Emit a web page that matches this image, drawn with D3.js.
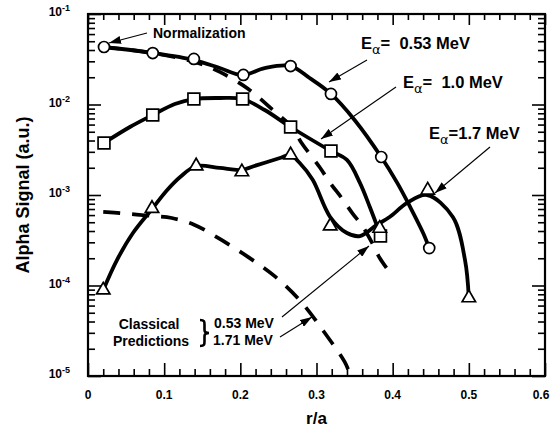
<!DOCTYPE html>
<html><head><meta charset="utf-8">
<script src="https://cdn.jsdelivr.net/npm/d3@7"></script>
<style>
body{margin:0;background:#fff}
svg{display:block}
text{font-family:"Liberation Sans",Arial,Helvetica,sans-serif;font-weight:bold;fill:#000}
</style>
</head><body>
<svg id="chart" width="551" height="433"></svg>
<script>
// ---- measured points (r/a, alpha signal) ----
const circR = [0.021, 0.085, 0.139, 0.204, 0.266, 0.319, 0.385, 0.448];
const circV = [0.0432, 0.037, 0.0319, 0.0212, 0.0266, 0.0131, 0.00263, 0.000259];
const sqR   = [0.021, 0.085, 0.139, 0.203, 0.266, 0.319, 0.384];
const sqV   = [0.00376, 0.00766, 0.0115, 0.0115, 0.00564, 0.00306, 0.000352];
const triR  = [0.020, 0.084, 0.142, 0.202, 0.266, 0.318, 0.383, 0.446, 0.500];
const triV  = [8.9e-5, 7.1e-4, 2.09e-3, 1.8e-3, 2.77e-3, 4.54e-4, 4.28e-4, 1.13e-3, 7.3e-5];

// ---- smooth fits through the measurements ----
const fit053R = [0.021, 0.085, 0.139, 0.173, 0.203, 0.232, 0.266, 0.291, 0.319, 0.350, 0.385, 0.406, 0.423, 0.440, 0.448];
const fit053V = [0.0432, 0.0371, 0.0310, 0.0253, 0.0212, 0.0253, 0.0266, 0.0196, 0.0131, 0.00675, 0.00263, 0.00136, 0.000736, 0.00038, 0.000259];
const fit10R  = [0.021, 0.055, 0.085, 0.114, 0.139, 0.173, 0.203, 0.232, 0.266, 0.319, 0.340, 0.357, 0.370, 0.383];
const fit10V  = [0.00376, 0.00564, 0.00766, 0.01014, 0.0115, 0.0118, 0.0115, 0.00869, 0.00564, 0.00306, 0.00244, 0.00136, 0.000736, 0.00038];
const fit17R  = [0.020, 0.038, 0.059, 0.084, 0.104, 0.121, 0.142, 0.173, 0.201, 0.222, 0.252, 0.265, 0.278, 0.295, 0.318, 0.340, 0.357, 0.379, 0.396, 0.419, 0.445, 0.479, 0.495, 0.500];
const fit17V  = [8.91e-5, 1.91e-4, 3.8e-4, 7.0e-4, 1.135e-3, 1.58e-3, 2.09e-3, 1.99e-3, 1.89e-3, 2.14e-3, 2.56e-3, 2.77e-3, 2.26e-3, 1.47e-3, 5.71e-4, 3.8e-4, 3.52e-4, 4.67e-4, 5.71e-4, 8.17e-4, 1.0e-3, 5.71e-4, 1.91e-4, 7.28e-5];

// ---- classical predictions ----
const cls053R = [0.021, 0.085, 0.140, 0.173, 0.210, 0.244, 0.268, 0.280, 0.304, 0.318, 0.333, 0.347, 0.361, 0.373, 0.383, 0.394];
const cls053V = [0.0432, 0.037, 0.0295, 0.0229, 0.0149, 0.0085, 0.0056, 0.0038, 0.00204, 0.00136, 0.000927, 0.000632, 0.000443, 0.000295, 0.000201, 0.000148];
const cls171R = [0.020, 0.042, 0.084, 0.110, 0.140, 0.173, 0.210, 0.245, 0.280, 0.310, 0.337, 0.344];
const cls171V = [6.5e-4, 6.3e-4, 5.86e-4, 5.57e-4, 4.67e-4, 3.27e-4, 2.07e-4, 1.27e-4, 6.58e-5, 3.06e-5, 1.43e-5, 1.05e-5];

// ---- ticks ----
const xMajor = [0, 0.1, 0.2, 0.3, 0.4, 0.5, 0.6];
const xLabels = ["0", "0.1", "0.2", "0.3", "0.4", "0.5", "0.6"];
const yMajor = [1e-5, 1e-4, 1e-3, 1e-2, 1e-1];
const yExp = ["-5", "-4", "-3", "-2", "-1"];

const zip = (a, b) => a.map((v, i) => [v, b[i]]);

const svg = d3.select("#chart");
const L = 88, R = 545, T = 14, B = 376;
const x = d3.scaleLinear().domain([0, 0.6]).range([L, R]);
const y = d3.scaleLog().domain([1e-5, 1e-1]).range([B, T]);

// minor tick positions
const xMinor = d3.range(0, 0.6001, 0.02).filter(v => Math.abs(v * 10 - Math.round(v * 10)) > 1e-6);
const yMinor = [];
for (let e = -5; e < -1; e++) for (let k = 2; k <= 9; k++) yMinor.push(k * Math.pow(10, e));

function axisGroup(axis, tx, ty) {
  const g = svg.append("g").attr("transform", `translate(${tx},${ty})`).call(axis);
  g.select(".domain").remove();
  g.selectAll("line").attr("stroke", "#000").attr("stroke-width", 1.6);
  return g;
}
// bottom/top
axisGroup(d3.axisBottom(x).tickValues(xMajor).tickSize(-13).tickSizeOuter(0).tickFormat(""), 0, B);
axisGroup(d3.axisBottom(x).tickValues(xMinor).tickSize(-7).tickSizeOuter(0).tickFormat(""), 0, B);
axisGroup(d3.axisTop(x).tickValues(xMajor).tickSize(-11).tickSizeOuter(0).tickFormat(""), 0, T);
axisGroup(d3.axisTop(x).tickValues(xMinor).tickSize(-6).tickSizeOuter(0).tickFormat(""), 0, T);
// left/right
axisGroup(d3.axisLeft(y).tickValues(yMajor).tickSize(-13).tickSizeOuter(0).tickFormat(""), L, 0);
axisGroup(d3.axisLeft(y).tickValues(yMinor).tickSize(-7).tickSizeOuter(0).tickFormat(""), L, 0);
axisGroup(d3.axisRight(y).tickValues(yMajor).tickSize(-13).tickSizeOuter(0).tickFormat(""), R, 0);
axisGroup(d3.axisRight(y).tickValues(yMinor).tickSize(-7).tickSizeOuter(0).tickFormat(""), R, 0);

// frame
svg.append("rect").attr("x", L).attr("y", T).attr("width", R - L).attr("height", B - T)
  .attr("fill", "none").attr("stroke", "#000").attr("stroke-width", 2.2);

// tick labels (last one kept inside the page edge)
svg.append("g").selectAll("text").data(xMajor).join("text")
  .attr("x", d => Math.min(x(d), 541)).attr("y", 399).attr("text-anchor", "middle")
  .attr("font-size", 12).text((d, i) => xLabels[i]);
const yl = svg.append("g").selectAll("text").data(yMajor).join("text")
  .attr("x", 70).attr("y", d => y(d) + 2).attr("text-anchor", "end").attr("font-size", 12);
yl.append("tspan").text("10");
yl.append("tspan").attr("font-size", 9).attr("dy", -5).text((d, i) => yExp[i]);

// axis titles
svg.append("text").attr("x", x(0.3)).attr("y", 424).attr("text-anchor", "middle")
  .attr("font-size", 17).text("r/a");
svg.append("text").attr("transform", `translate(29,${(T + B) / 2}) rotate(-90)`)
  .attr("text-anchor", "middle").attr("font-size", 18).text("Alpha Signal (a.u.)");

// curves
const line = d3.line().x(d => x(d[0])).y(d => y(d[1])).curve(d3.curveCatmullRom.alpha(0.5));
const curves = svg.append("g").attr("fill", "none").attr("stroke", "#000")
  .attr("stroke-linecap", "round").attr("stroke-linejoin", "round");
curves.append("path").attr("d", line(zip(cls053R, cls053V))).attr("stroke-width", 3.7)
  .attr("stroke-dasharray", "16,12").attr("stroke-linecap", "butt");
curves.append("path").attr("d", line(zip(cls171R, cls171V))).attr("stroke-width", 3.7)
  .attr("stroke-dasharray", "17,12").attr("stroke-linecap", "butt");
curves.append("path").attr("d", line(zip(fit053R, fit053V))).attr("stroke-width", 3.8);
curves.append("path").attr("d", line(zip(fit10R, fit10V))).attr("stroke-width", 3.8);
curves.append("path").attr("d", line(zip(fit17R, fit17V))).attr("stroke-width", 3.8);

// markers
function markers(rs, vs, type, size) {
  svg.append("g").selectAll("path").data(zip(rs, vs)).join("path")
    .attr("transform", d => `translate(${x(d[0])},${y(d[1])})`)
    .attr("d", d3.symbol().type(type).size(size)())
    .attr("fill", "#fff").attr("stroke", "#000").attr("stroke-width", 1.7);
}
markers(circR, circV, d3.symbolCircle, 95);
markers(sqR, sqV, d3.symbolSquare, 140);
markers(triR, triV, d3.symbolTriangle, 78);

// arrow heads
svg.append("defs").append("marker").attr("id", "ah")
  .attr("viewBox", "0 0 12 8").attr("refX", 12).attr("refY", 4)
  .attr("markerWidth", 12).attr("markerHeight", 8).attr("markerUnits", "userSpaceOnUse")
  .attr("orient", "auto")
  .append("path").attr("d", "M0,0 L12,4 L0,8 Z").attr("fill", "#000");

const arrows = [
  [147, 33, 109, 43],
  [367, 60, 329, 82],
  [396, 87, 321, 139],
  [490, 147, 435, 193],
  [282, 317, 369, 246],
  [280, 337, 312, 317]
];
svg.append("g").selectAll("line").data(arrows).join("line")
  .attr("x1", d => d[0]).attr("y1", d => d[1]).attr("x2", d => d[2]).attr("y2", d => d[3])
  .attr("stroke", "#000").attr("stroke-width", 1.1).attr("marker-end", "url(#ah)");

// annotations
svg.append("text").attr("x", 153).attr("y", 38).attr("font-size", 14).text("Normalization");

function energy(xp, yp, mid, val) {
  const t = svg.append("text").attr("x", xp).attr("y", yp).attr("font-size", 16.5)
    .style("white-space", "pre");
  t.append("tspan").text("E");
  t.append("tspan").attr("font-size", 13).attr("font-weight", "normal")
    .attr("font-family", "DejaVu Sans, sans-serif").attr("dy", 4.5).text("\u03b1");
  t.append("tspan").attr("dy", -4.5).text(mid + val);
}
energy(361, 49, "=  ", "0.53 MeV");
energy(403, 88, "=  ", "1.0 MeV");
energy(429, 139, "=", "1.7 MeV");

svg.append("text").attr("x", 149).attr("y", 329).attr("text-anchor", "middle")
  .attr("font-size", 14).text("Classical");
svg.append("text").attr("x", 151).attr("y", 346).attr("text-anchor", "middle")
  .attr("font-size", 14).text("Predictions");
svg.append("path")
  .attr("d", "M200,320 C205,320 204.5,322 204.5,326 L204.5,330 C204.5,332 206,333 209,333 C206,333 204.5,334 204.5,336 L204.5,340 C204.5,344 205,346 200,346")
  .attr("fill", "none").attr("stroke", "#000").attr("stroke-width", 2.6);
svg.append("text").attr("x", 214).attr("y", 328).attr("font-size", 14).text("0.53 MeV");
svg.append("text").attr("x", 213).attr("y", 345).attr("font-size", 14).text("1.71 MeV");
</script>
</body></html>
